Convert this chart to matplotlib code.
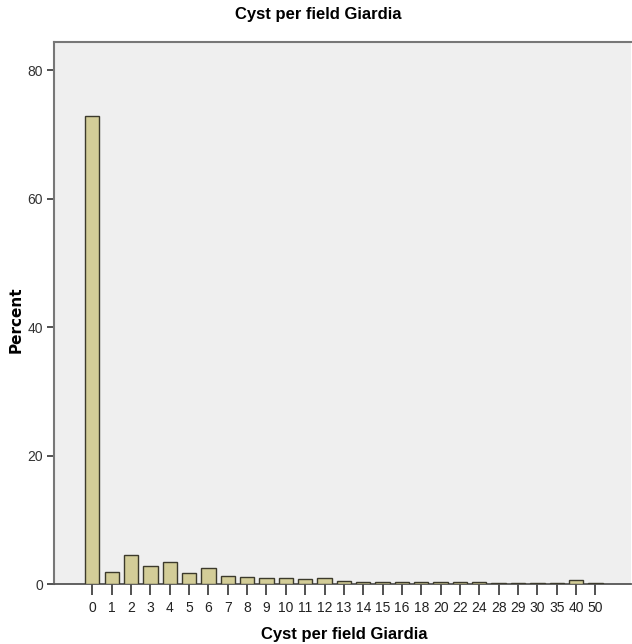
import numpy as np
import matplotlib.pyplot as plt

# Cyst per field Giardia - percent distribution
categories = ['0', '1', '2', '3', '4', '5', '6', '7', '8', '9', '10', '11', '12',
              '13', '14', '15', '16', '18', '20', '22', '24', '28', '29', '30',
              '35', '40', '50']
percent = [72.8, 1.9, 4.5, 2.85, 3.5, 1.7, 2.45, 1.2, 1.15, 1.0, 1.0, 0.8, 1.0,
           0.4, 0.35, 0.35, 0.35, 0.35, 0.35, 0.35, 0.35, 0.15, 0.15, 0.15,
           0.15, 0.6, 0.15]
yticks = [0, 20, 40, 60, 80]

plt.rcParams['font.family'] = ['Liberation Sans Narrow', 'Liberation Sans', 'DejaVu Sans']

fig = plt.figure(figsize=(6.32, 6.44), dpi=100)
ax = fig.add_axes([54 / 632, 60 / 644, 577 / 632, 542 / 644])

x = np.arange(len(categories))
ax.bar(x, percent, width=0.74, color='#d3cd98', edgecolor='#3c3a2c', linewidth=1.0, zorder=3)

ax.set_facecolor('#efefef')
ax.set_xlim(-1.98, 27.84)
ax.set_ylim(0, 84.36)
ax.set_xticks(x)
ax.set_xticklabels(categories, fontsize=10, color='#222222')
ax.set_yticks(yticks)
ax.set_yticklabels([str(v) for v in yticks], fontsize=10, color='#333333')
ax.tick_params(axis='x', direction='out', length=8, width=1.2, color='#333333', pad=4)
ax.tick_params(axis='y', direction='out', length=5, width=1.2, color='#333333', pad=3)

for side in ['left', 'top']:
    ax.spines[side].set_color('#777777')
    ax.spines[side].set_linewidth(1.5)
ax.spines['bottom'].set_color('#555555')
ax.spines['bottom'].set_linewidth(1.3)
ax.spines['right'].set_visible(False)

fig.text(318 / 632, 1 - 14 / 644, 'Cyst per field Giardia', ha='center', va='center',
         fontsize=12, fontweight='bold')
fig.text(344 / 632, 1 - 634 / 644, 'Cyst per field Giardia', ha='center', va='center',
         fontsize=12, fontweight='bold')
fig.text(16 / 632, 1 - 320 / 644, 'Percent', ha='center', va='center', rotation=90,
         fontsize=11, fontweight='bold', family='DejaVu Sans')

plt.savefig('out.png', dpi=100)
